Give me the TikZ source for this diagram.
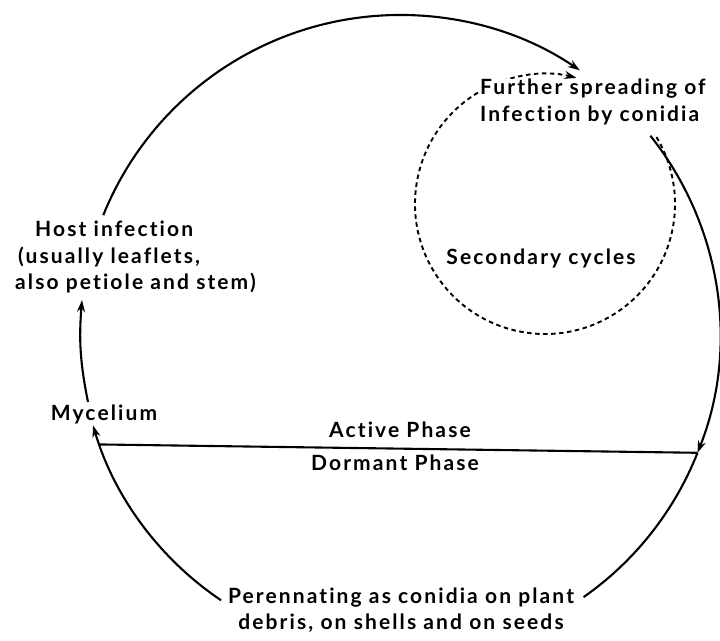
\documentclass[tikz,border=0pt]{standalone}
\usepackage{fontspec}
\setmainfont{Lato}[LetterSpace=10,Ligatures={NoCommon}]
\usetikzlibrary{arrows.meta,calc}
\begin{document}
\begin{tikzpicture}[x=1pt,y=1pt,
  lbl/.style={inner sep=0pt,font=\fontsize{21}{26.5}\selectfont\bfseries},
  conn/.style={line width=2.1pt,-{Stealth[length=12pt,width=8pt]}},
  plainconn/.style={line width=2.1pt},
  dconn/.style={line width=1.9pt,dash pattern=on 4.5pt off 3.5pt,-{Stealth[length=12pt,width=8pt]}}]
\useasboundingbox (0,0) rectangle (720,640);
\coordinate (C) at (400,305);
\coordinate (D) at (545,436);
% points on big circle
\coordinate (a1) at ($(C)+(158:320)$);
\coordinate (a2) at ($(C)+(38.5:320)$);
\coordinate (a3) at ($(C)+(-21.6:320)$);
\coordinate (a4) at ($(C)+(-124:320)$);
\coordinate (lineL) at ($(C)+(-160:320)$);
\coordinate (d1) at ($(D)+(31:130)$);
\coordinate (m1) at (88,238);
\coordinate (h1) at (82,340);
% dashed secondary cycle (behind text)
\draw[dconn] (d1) arc[start angle=31,end angle=-284,radius=130];
% nodes
\node[lbl,align=left,anchor=north west,fill=white] (further) at (480,561) {Further spreading of\\Infection by conidia};
\node[lbl] (secondary) at (541,382) {Secondary cycles};
\node[lbl,align=left,anchor=west] (host) at (15,383) {\hspace*{20pt}Host infection\\\hspace*{3pt}(usually leaflets,\\also petiole and stem)};
\node[lbl] (myc) at (104,226) {Mycelium};
\node[lbl] (active) at (400,210) {Active Phase};
\node[lbl] (dormant) at (395,177) {Dormant Phase};
\node[lbl,align=center] (peren) at (401,30) {Perennating as conidia on plant\\debris, on shells and on seeds};
% connectors
\draw[conn] (a1) arc[start angle=158,end angle=55.8,radius=320];
\draw[conn] (a2) arc[start angle=38.5,end angle=-21.6,radius=320];
\draw[plainconn] (a3) arc[start angle=-21.6,end angle=-55,radius=320];
\draw[conn] (a4) arc[start angle=-124,end angle=-163.6,radius=320];
\draw[conn] (m1) to[bend left=8] (h1);
\draw[line width=2.1pt] (lineL) -- (a3);
\end{tikzpicture}
\end{document}
